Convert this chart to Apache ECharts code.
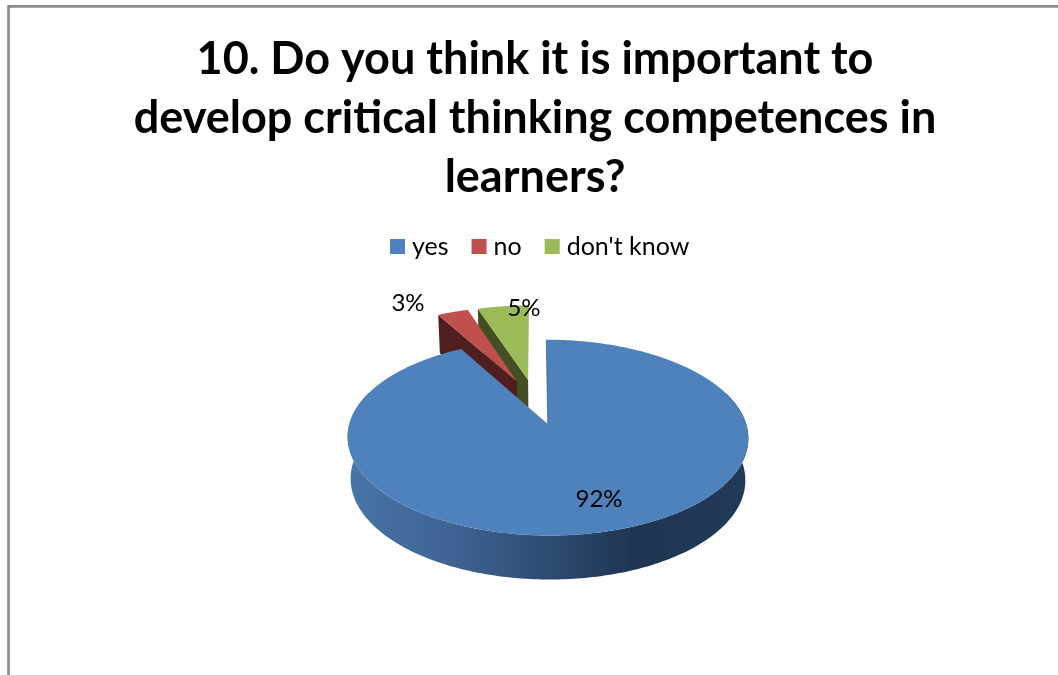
<!DOCTYPE html>
<html>
<head>
<meta charset="utf-8">
<style>html,body{margin:0;padding:0;background:#fff}#chart{width:1058px;height:675px}</style>
<script src="https://cdn.jsdelivr.net/npm/echarts@6/dist/echarts.min.js"></script>
</head>
<body>
<div id="chart"></div>
<script>
// Survey answers, percent of respondents
const categories = ['yes', 'no', "don't know"];
const shares = [92, 3, 5];
const titleLines = [
  '10. Do you think it is important to',
  'develop critical thinking competences in',
  'learners?'
];
const topColors = ['#4f81bd', '#c0504d', '#9bbb59'];
const wallColors = ['#2d4c72', '#4f1f1f', '#414f22'];

// Viewing set-up of the tilted disc
const view = { x0: 535.4, y0: 401.5, rx: 192, ry: 89.9, persp: 0.134, explode: 0.25,
               depth: 41, depthPersp: 0.06, baseShrink: 0.985, baseCx: 548 };
// Label anchors around the disc
const labelAnchors = [[599, 499], [408, 303], [524, 308]];

function project(u, v, lower) {
  const w = 1 - view.persp * v;
  let x = view.x0 + view.rx * u / w;
  let y = view.y0 + view.ry * v / w;
  if (lower) {
    x = view.baseCx + (x - view.baseCx) * view.baseShrink;
    y += view.depth * (1 + view.depthPersp * v);
  }
  return [x, y];
}

const total = shares.reduce((a, b) => a + b, 0);
function sliceSpan(index) {
  const before = shares.slice(0, index).reduce((a, b) => a + b, 0);
  return [before / total * 360, (before + shares[index]) / total * 360];
}
function toRad(d) { return d * Math.PI / 180; }

function renderSlice(index) {
  return function () {
    const [a0, a1] = sliceSpan(index);
    const mid = toRad((a0 + a1) / 2);
    const cu = Math.sin(mid) * view.explode;
    const cv = -Math.cos(mid) * view.explode;
    const rim = (deg, lower) => project(cu + Math.sin(toRad(deg)), cv - Math.cos(toRad(deg)), lower);
    const apex = lower => project(cu, cv, lower);

    const topPts = [apex(false)];
    for (let d = a0; d < a1; d += 0.5) topPts.push(rim(d, false));
    topPts.push(rim(a1, false));

    const children = [];
    if (a1 - a0 > 180) {
      // Large slice: the curved outer wall shows along the front of the disc
      const upper = [], lowerPts = [];
      for (let d = 70; d <= 290; d += 1) { upper.push(rim(d, false)); lowerPts.unshift(rim(d, true)); }
      children.push({
        type: 'polygon', shape: { points: upper.concat(lowerPts) },
        style: { fill: new echarts.graphic.LinearGradient(350, 0, 745, 0, [
          { offset: 0, color: '#4874a8' }, { offset: 0.25, color: '#3f6494' },
          { offset: 0.5, color: '#2d4c72' }, { offset: 0.72, color: '#1f3552' },
          { offset: 1, color: '#213a58' }], true) }
      });
    } else {
      // Small slice: only the cut face turned toward the left shows
      children.push({
        type: 'polygon',
        shape: { points: [rim(a0, false), apex(false), apex(true), rim(a0, true)] },
        style: { fill: wallColors[index] }
      });
    }
    children.push({ type: 'polygon', shape: { points: topPts }, style: { fill: topColors[index] } });
    if (a1 - a0 > 180) {
      children.push({
        type: 'polyline', shape: { points: [apex(false), rim(a0, false)] },
        style: { stroke: wallColors[index], lineWidth: 1, fill: null, opacity: 0.6 }
      });
    }
    children.push({
      type: 'text', x: labelAnchors[index][0], y: labelAnchors[index][1],
      style: { text: shares[index] + '%', fontFamily: 'Lato', fontSize: 24, fill: '#000',
               align: 'center', verticalAlign: 'middle' }
    });
    return { type: 'group', children };
  };
}

const chart = echarts.init(document.getElementById('chart'), null, { renderer: 'canvas' });
chart.setOption({
  animation: false,
  backgroundColor: '#ffffff',
  title: {
    text: titleLines.join('\n'), left: 530, top: 25, textAlign: 'center',
    textStyle: { fontFamily: 'Lato', fontWeight: 'bold', fontSize: 45, lineHeight: 59, color: '#000' }
  },
  legend: {
    data: categories, left: 385, top: 229, icon: 'rect', itemWidth: 15, itemHeight: 15, itemGap: 23,
    textStyle: { fontFamily: 'Lato', fontSize: 25, color: '#000', padding: [0, 0, 0, 2] }
  },
  graphic: [{
    type: 'polyline', silent: true, z: -1,
    shape: { points: [[8.5, 680], [8.5, 6.4], [1064, 6.4]] },
    style: { stroke: '#8a8a8a', lineWidth: 2.6, fill: null }
  }],
  series: categories.map((name, i) => ({
    type: 'custom', name, coordinateSystem: 'none', z: 10 - i,
    itemStyle: { color: topColors[i] },
    renderItem: renderSlice(i), data: [[shares[i]]], silent: true
  }))
});
</script>
</body>
</html>
